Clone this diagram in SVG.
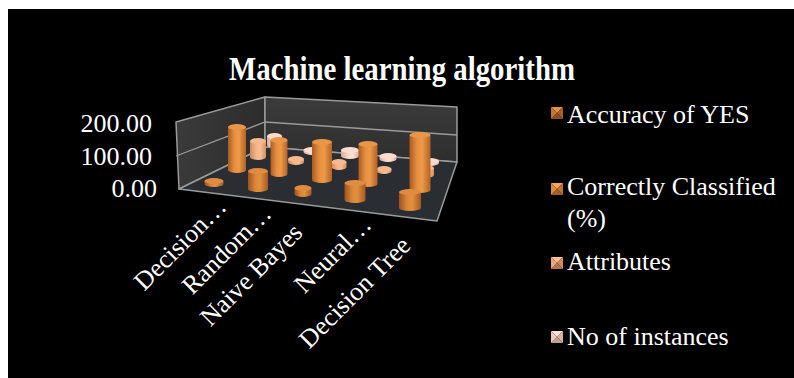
<svg xmlns="http://www.w3.org/2000/svg" width="794" height="378" viewBox="0 0 794 378">
<style>
  .t { font-family: "Liberation Serif", "Times New Roman", serif; fill: #ffffff; }
  .ax { font-size: 26px; }
  .frame { stroke: #9a9a9a; stroke-width: 1.5; stroke-linejoin: round; }
  .grid { stroke: #9a9a9a; stroke-width: 1.3; fill: none; }
</style>
<defs>
  <linearGradient id="gA" x1="0" y1="0" x2="1" y2="0">
    <stop offset="0" stop-color="#9c5220"/>
    <stop offset="0.35" stop-color="#d9853a"/>
    <stop offset="0.6" stop-color="#e3913f"/>
    <stop offset="1" stop-color="#a35822"/>
  </linearGradient>
  <linearGradient id="gC" x1="0" y1="0" x2="1" y2="0">
    <stop offset="0" stop-color="#a95b24"/>
    <stop offset="0.35" stop-color="#e58e3f"/>
    <stop offset="0.6" stop-color="#ee9a48"/>
    <stop offset="1" stop-color="#b26226"/>
  </linearGradient>
  <linearGradient id="gT" x1="0" y1="0" x2="1" y2="0">
    <stop offset="0" stop-color="#cf8a5e"/>
    <stop offset="0.4" stop-color="#f6b58a"/>
    <stop offset="0.65" stop-color="#f9be94"/>
    <stop offset="1" stop-color="#d48e60"/>
  </linearGradient>
  <linearGradient id="gN" x1="0" y1="0" x2="1" y2="0">
    <stop offset="0" stop-color="#d7ad9c"/>
    <stop offset="0.4" stop-color="#fad8ca"/>
    <stop offset="0.65" stop-color="#fde1d4"/>
    <stop offset="1" stop-color="#d9b0a0"/>
  </linearGradient>
  <linearGradient id="wallL" x1="0" y1="0" x2="1" y2="0">
    <stop offset="0" stop-color="#3a3a3a"/>
    <stop offset="1" stop-color="#2c2c2c"/>
  </linearGradient>
  <linearGradient id="wallB" x1="0" y1="0" x2="0" y2="1">
    <stop offset="0" stop-color="#3b3b3b"/>
    <stop offset="1" stop-color="#2e2e2e"/>
  </linearGradient>
</defs>

<rect x="0" y="0" width="794" height="378" fill="#ffffff"/>
<rect x="8" y="9" width="786" height="369" fill="#000000"/>

<text class="t" x="402" y="80" font-size="34" font-weight="bold" text-anchor="middle" textLength="346" lengthAdjust="spacingAndGlyphs">Machine learning algorithm</text>

<g id="plot-area">
  <polygon class="frame" points="176,122 265,97 265,147 179,189" fill="url(#wallL)"/>
  <polygon class="frame" points="265,97 457,107 457,162 265,147" fill="url(#wallB)"/>
  <polygon class="frame" points="265,147 457,162 437,221 179,189" fill="#2a2d31"/>
  <polyline class="grid" points="176,156 265,122 457,135"/>
</g>

<g id="y-axis" class="t ax">
  <text x="152" y="132" text-anchor="end">200.00</text>
  <text x="152" y="165" text-anchor="end">100.00</text>
  <text x="157" y="197" text-anchor="end">0.00</text>
</g>

<g id="series-no-of-instances">
  <path d="M267,136 V145 A7.5,3 0 0 0 282,145 V136 Z" fill="url(#gN)"/><ellipse cx="274.5" cy="136" rx="7.5" ry="3" fill="#fbdccf"/>
  <path d="M303.5,150 V152 A8.5,3 0 0 0 320.5,152 V150 Z" fill="url(#gN)"/><ellipse cx="312" cy="150" rx="8.5" ry="3" fill="#fbdccf"/>
  <path d="M341,150 V156 A9,3 0 0 0 359,156 V150 Z" fill="url(#gN)"/><ellipse cx="350" cy="150" rx="9" ry="3" fill="#fbdccf"/>
  <path d="M379.5,156 V159 A8.5,3 0 0 0 396.5,159 V156 Z" fill="url(#gN)"/><ellipse cx="388" cy="156" rx="8.5" ry="3" fill="#fbdccf"/>
  <path d="M421,161 V163 A9,3 0 0 0 439,163 V161 Z" fill="url(#gN)"/><ellipse cx="430" cy="161" rx="9" ry="3" fill="#fbdccf"/>
</g>

<g id="series-attributes">
  <path d="M250,141 V157 A8,3 0 0 0 266,157 V141 Z" fill="url(#gT)"/><ellipse cx="258" cy="141" rx="8" ry="3" fill="#f8b98e"/>
  <path d="M288,159 V162 A8,3 0 0 0 304,162 V159 Z" fill="url(#gT)"/><ellipse cx="296" cy="159" rx="8" ry="3" fill="#f8b98e"/>
  <path d="M331.5,162 V167 A7.5,3 0 0 0 346.5,167 V162 Z" fill="url(#gT)"/><ellipse cx="339" cy="162" rx="7.5" ry="3" fill="#f8b98e"/>
  <path d="M376.5,169 V171 A7.5,3 0 0 0 391.5,171 V169 Z" fill="url(#gT)"/><ellipse cx="384" cy="169" rx="7.5" ry="3" fill="#f8b98e"/>
  <path d="M418,168 V175 A8,3 0 0 0 434,175 V168 Z" fill="url(#gT)"/><ellipse cx="426" cy="168" rx="8" ry="3" fill="#f8b98e"/>
</g>

<g id="series-correctly-classified">
  <path d="M228,127 V170 A9,3 0 0 0 246,170 V127 Z" fill="url(#gC)"/><ellipse cx="237" cy="127" rx="9" ry="3" fill="#e99647"/>
  <path d="M270.5,140 V174 A8.5,3 0 0 0 287.5,174 V140 Z" fill="url(#gC)"/><ellipse cx="279" cy="140" rx="8.5" ry="3" fill="#e99647"/>
  <path d="M312,142 V180 A10,3 0 0 0 332,180 V142 Z" fill="url(#gC)"/><ellipse cx="322" cy="142" rx="10" ry="3" fill="#e99647"/>
  <path d="M358.5,144 V184 A9.5,3 0 0 0 377.5,184 V144 Z" fill="url(#gC)"/><ellipse cx="368" cy="144" rx="9.5" ry="3" fill="#e99647"/>
  <path d="M409.5,135 V190 A10.5,3 0 0 0 430.5,190 V135 Z" fill="url(#gC)"/><ellipse cx="420" cy="135" rx="10.5" ry="3" fill="#e99647"/>
</g>

<g id="series-accuracy-of-yes">
  <path d="M204.5,181 V184 A9.5,3 0 0 0 223.5,184 V181 Z" fill="url(#gA)"/><ellipse cx="214" cy="181" rx="9.5" ry="3" fill="#df8c42"/>
  <path d="M248,171 V189 A10,3 0 0 0 268,189 V171 Z" fill="url(#gA)"/><ellipse cx="258" cy="171" rx="10" ry="3" fill="#df8c42"/>
  <path d="M294.5,188 V194 A8.5,3 0 0 0 311.5,194 V188 Z" fill="url(#gA)"/><ellipse cx="303" cy="188" rx="8.5" ry="3" fill="#df8c42"/>
  <path d="M344.5,183 V200 A10.5,3 0 0 0 365.5,200 V183 Z" fill="url(#gA)"/><ellipse cx="355" cy="183" rx="10.5" ry="3" fill="#df8c42"/>
  <path d="M399,192 V208 A11,3 0 0 0 421,208 V192 Z" fill="url(#gA)"/><ellipse cx="410" cy="192" rx="11" ry="3" fill="#df8c42"/>
</g>

<g id="x-axis" class="t ax">
  <text text-anchor="end" transform="translate(228,208) rotate(-45)">Decision…</text>
  <text text-anchor="end" transform="translate(273,215) rotate(-45)">Random…</text>
  <text text-anchor="end" transform="translate(304,234) rotate(-45)">Naive Bayes</text>
  <text text-anchor="end" transform="translate(373,226) rotate(-45)">Neural…</text>
  <text text-anchor="end" transform="translate(412,247) rotate(-45)">Decision Tree</text>
</g>

<g id="legend">
  <g id="leg-accuracy">
    <polygon points="551,107 563,107 557,113" fill="#e0924e"/>
    <polygon points="563,107 563,119 557,113" fill="#a85e28"/>
    <polygon points="551,119 563,119 557,113" fill="#8f4e1f"/>
    <polygon points="551,107 551,119 557,113" fill="#c47434"/>
    <text class="t ax" x="567" y="123">Accuracy of YES</text>
  </g>
  <g id="leg-correct">
    <polygon points="551,183 563,183 557,189" fill="#f3a85a"/>
    <polygon points="563,183 563,195 557,189" fill="#c07030"/>
    <polygon points="551,195 563,195 557,189" fill="#a65e25"/>
    <polygon points="551,183 551,195 557,189" fill="#dd8a3e"/>
    <text class="t ax" x="567" y="195">Correctly Classified</text>
    <text class="t ax" x="567" y="227">(%)</text>
  </g>
  <g id="leg-attributes">
    <polygon points="551,257 563,257 557,263" fill="#fbc196"/>
    <polygon points="563,257 563,269 557,263" fill="#d08a5c"/>
    <polygon points="551,269 563,269 557,263" fill="#b87650"/>
    <polygon points="551,257 551,269 557,263" fill="#eca878"/>
    <text class="t ax" x="567" y="270">Attributes</text>
  </g>
  <g id="leg-instances">
    <polygon points="551,331 563,331 557,337" fill="#fde3d8"/>
    <polygon points="563,331 563,343 557,337" fill="#d8b2a4"/>
    <polygon points="551,343 563,343 557,337" fill="#c29e90"/>
    <polygon points="551,331 551,343 557,337" fill="#efcbbd"/>
    <text class="t ax" x="567" y="345">No of instances</text>
  </g>
</g>
</svg>
